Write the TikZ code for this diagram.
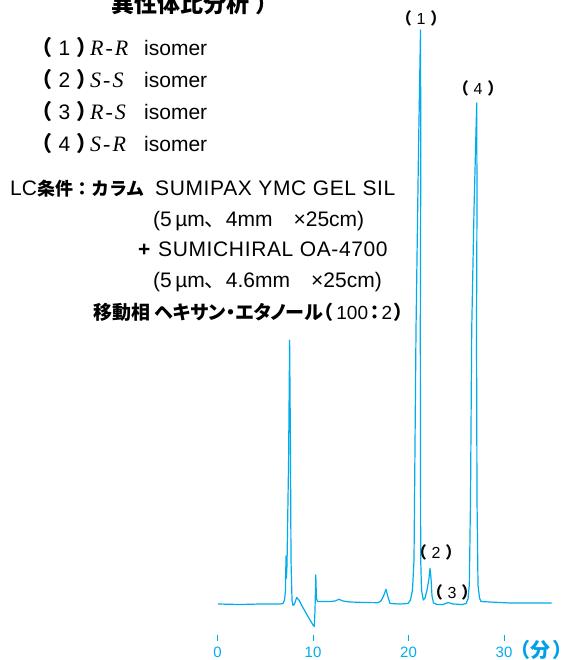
\documentclass[tikz,border=0pt]{standalone}
\usepackage{fontspec}
\setmainfont{Liberation Sans}
\newfontfamily\jp{Noto Sans CJK JP}[RawFeature=+palt]
\newfontfamily\jpw{Noto Sans CJK JP}
\newfontfamily\tms{Liberation Serif}
\newfontfamily\wide{Liberation Sans}[LetterSpace=3]
\newcommand\pk[1]{{\jpw\bfseries （}\kern.3em#1\kern.3em{\jpw\bfseries ）}}

\begin{document}
\begin{tikzpicture}[x=1pt,y=-1pt,
  txt/.style={inner sep=0pt,anchor=base west,font=\fontsize{21}{24}\selectfont},
  plab/.style={inner sep=0pt,font=\fontsize{16}{18}\selectfont},
  tlab/.style={inner sep=0pt,text=chromBlue,font=\fontsize{15}{18}\selectfont},
  chrom/.style={chromBlue,line width=1.2pt,line join=round}]
\definecolor{chromBlue}{RGB}{0,172,236}
\definecolor{unitBlue}{RGB}{0,160,233}
\useasboundingbox (0,0) rectangle (567,660);
\clip (0,0) rectangle (567,660);

\node[txt,font=\jpw\bfseries\fontsize{23}{28}\selectfont] (title) at (111,12.5) {異性体比分析\kern6pt）};

\foreach \n/\a/\b [count=\k] in {1/R/R,2/S/S,3/R/S,4/S/R} {
  \node[txt] (l\n) at (31,24+32*\k) {\pk{\n}};
  \node[txt] (r\n) at (90,24+32*\k) {\fontsize{22}{24}\tms\itshape\a\kern2pt-\kern2pt\b};
  \node[txt] (i\n) at (144,24+32*\k) {isomer};
}

\node[txt] (lc) at (10,196) {LC{\jpw\bfseries\fontsize{18}{24}\selectfont 条件：カラム}};
\node[txt,font=\wide\fontsize{21}{24}\selectfont] (col1) at (155,196) {SUMIPAX YMC GEL SIL};
\node[txt] (dim1) at (153,226) {(5\,µm{\jpw 、}4mm\quad×25cm)};
\node[txt] (plus) at (138,256) {\textbf{+}};
\node[txt,font=\wide\fontsize{21}{24}\selectfont] (col2) at (158,256) {SUMICHIRAL OA-4700};
\node[txt] (dim2) at (153,287) {(5\,µm{\jpw 、}4.6mm\quad×25cm)};
\node[txt,font=\fontsize{19}{24}\selectfont] (mob) at (93,319) {{\jp\bfseries 移動相 ヘキサン・エタノール（}\kern4pt 100\kern2pt{\jp\bfseries ：}\kern2pt 2\kern2pt{\jp\bfseries ）}};

\draw[chrom] plot coordinates {(218,604) (240,604.5) (260,604) (280,604) (283,603.5)
  (284.5,600) (285.5,590) (286,556) (286.4,578) (287,565) (287.6,525) (288.6,460)
  (289.6,340) (290.4,440) (291,560) (292,600) (293,605.5) (294.5,604) (296.7,597.5)
  (299,600) (302,606) (306,613) (310,620) (313,625) (314.3,626.5) (315,610)
  (315.8,575) (316.4,598) (317.5,601.5) (322,601.5) (330,601.5) (335,601)
  (339,599.3) (343,601) (350,602) (365,602.5) (378,602.7) (381,601) (383.5,596)
  (386,589.3) (388,597) (390,603.5) (400,604) (408,603.5) (410.5,600) (412.5,590)
  (414,560) (416,330) (418.5,150) (420.5,30) (420.8,150) (420.3,330) (420.7,560)
  (421.5,590) (423.3,600) (425,598) (427,590) (428.8,580) (430,568.3) (431,578)
  (432,596) (433.5,603) (437,604.5) (443,604.5) (448,602.5) (453,604) (462,604.5)
  (466,603.5) (468,599) (469.3,585) (470.5,500) (471.7,330) (474,210) (476.7,103)
  (477,200) (476.5,330) (477,500) (478,585) (479.5,598) (481,601.5) (490,602)
  (510,603) (530,603) (551.7,603)};

\node[plab] (p1) at (421,18) {\pk{1}};
\node[plab] (p4) at (478,88) {\pk{4}};
\node[plab] (p2) at (436,552) {\pk{2}};
\node[plab] (p3) at (452,592) {\pk{3}};

\foreach \t in {0,10,20,30} {
  \draw[chromBlue,line width=0.8pt] (217.5+9.55*\t,635) -- ++(0,6);
  \node[tlab] (t\t) at (217.5+9.55*\t,652) {\t};
}
\node[inner sep=0pt,anchor=east,text=unitBlue,font=\jp\bfseries\fontsize{20}{24}\selectfont] (unit) at (564,650) {（\kern1pt 分\kern3pt）};
\end{tikzpicture}
\end{document}
